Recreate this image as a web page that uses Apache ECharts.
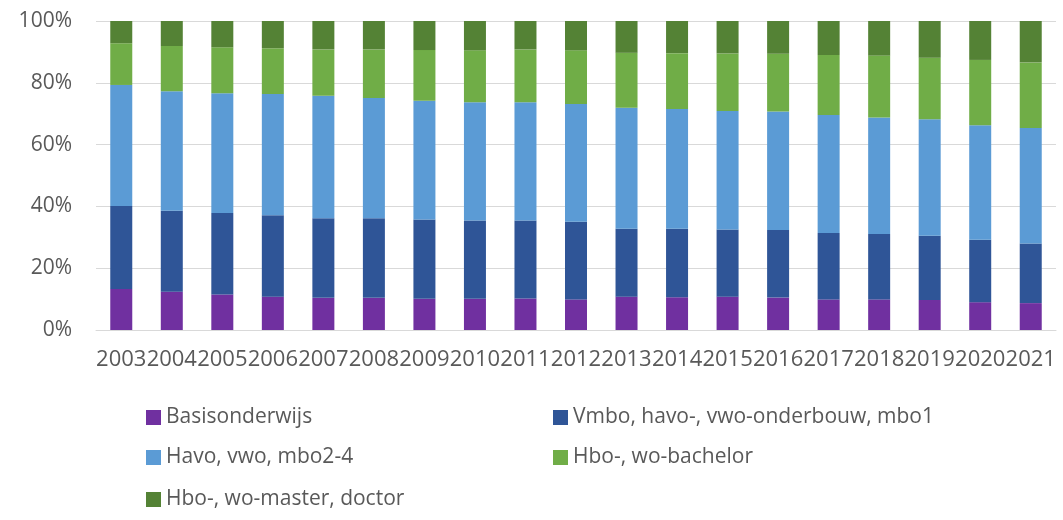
<!DOCTYPE html>
<html>
<head>
<meta charset="utf-8">
<script src="https://cdn.jsdelivr.net/npm/echarts@6/dist/echarts.min.js"></script>
<style>
  html, body { margin: 0; padding: 0; background: #fff; }
  #chart { width: 1063px; height: 520px; }
</style>
</head>
<body>
<div id="chart"></div>
<script>
const years = ["2003", "2004", "2005", "2006", "2007", "2008", "2009", "2010", "2011", "2012",
  "2013", "2014", "2015", "2016", "2017", "2018", "2019", "2020", "2021"];

const basisonderwijs = [13.3, 12.4, 11.5, 10.8, 10.4, 10.4, 10.1, 10.1, 10.2, 9.9,
  10.8, 10.6, 10.8, 10.5, 9.9, 9.9, 9.7, 9.0, 8.7];
const vmbo = [26.8, 26.2, 26.4, 26.3, 25.8, 25.8, 25.7, 25.3, 25.2, 25.1,
  22.0, 22.2, 21.7, 21.9, 21.5, 21.2, 20.8, 20.2, 19.3];
const havo = [39.2, 38.7, 38.7, 39.3, 39.6, 38.9, 38.4, 38.3, 38.3, 38.1,
  39.1, 38.7, 38.4, 38.3, 38.2, 37.7, 37.7, 37.1, 37.4];
const bachelor = [13.5, 14.6, 14.9, 14.8, 15.0, 15.7, 16.4, 16.8, 17.1, 17.4,
  17.8, 18.1, 18.6, 18.7, 19.4, 20.0, 19.9, 21.1, 21.2];
const master = [7.2, 8.1, 8.5, 8.8, 9.2, 9.2, 9.4, 9.5, 9.2, 9.5,
  10.3, 10.4, 10.5, 10.6, 11.0, 11.2, 11.9, 12.6, 13.4];

const seriesNames = [
  "Basisonderwijs",
  "Vmbo, havo-, vwo-onderbouw, mbo1",
  "Havo, vwo, mbo2-4",
  "Hbo-, wo-bachelor",
  "Hbo-, wo-master, doctor",
];
const seriesData = [basisonderwijs, vmbo, havo, bachelor, master];
const colors = ["#7030A0", "#2F5597", "#5B9BD5", "#70AD47", "#548235"];

const textColor = "#595959";
const gridColor = "#d9d9d9";
const fontFamily = "'Open Sans', sans-serif";

// legend spots: two columns, three rows (box includes 5px padding)
const legendSpots = [
  { left: 141, top: 402 },
  { left: 548, top: 402 },
  { left: 141, top: 442 },
  { left: 548, top: 442 },
  { left: 141, top: 484 },
];

const chart = echarts.init(document.getElementById("chart"), null, { renderer: "canvas" });

chart.setOption({
  animation: false,
  color: colors,
  textStyle: { fontFamily: fontFamily },
  grid: { left: 96, right: 7, top: 21, bottom: 190 },
  legend: seriesNames.map((name, i) => ({
    data: [name],
    left: legendSpots[i].left,
    top: legendSpots[i].top,
    icon: "rect",
    itemWidth: 15,
    itemHeight: 15,
    itemGap: 0,
    textStyle: { color: textColor, fontSize: 21, fontFamily: fontFamily },
  })),
  xAxis: {
    type: "category",
    data: years,
    axisLine: { lineStyle: { color: gridColor } },
    axisTick: { show: false },
    axisLabel: {
      color: textColor,
      fontSize: 22,
      interval: 0,
      margin: 19,
      fontFamily: fontFamily,
    },
  },
  yAxis: {
    type: "value",
    min: 0,
    max: 100,
    interval: 20,
    axisLine: { show: false },
    axisTick: { show: false },
    axisLabel: {
      color: textColor,
      fontSize: 21,
      margin: 24,
      formatter: "{value}%",
      fontFamily: fontFamily,
    },
    splitLine: { lineStyle: { color: gridColor, width: 1 } },
  },
  series: seriesNames.map((name, i) => ({
    name: name,
    type: "bar",
    stack: "total",
    barWidth: 22,
    data: seriesData[i],
  })),
});
</script>
</body>
</html>
